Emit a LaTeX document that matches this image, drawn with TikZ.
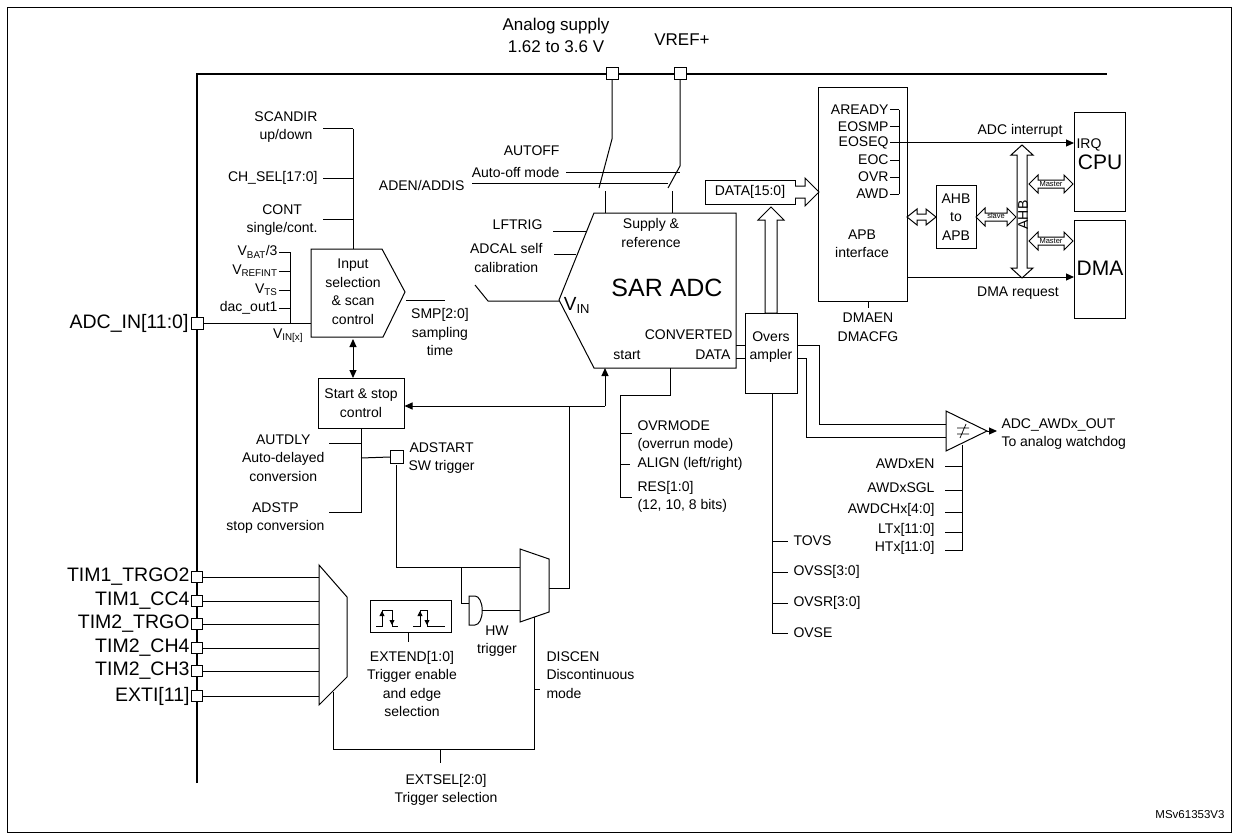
\documentclass[tikz,border=0pt]{standalone}
\usepackage{fontspec}
\setmainfont{Liberation Sans}
\usetikzlibrary{arrows.meta}
\newcommand\hdarrow[6]{\draw[fill=white] (#1,#3) -- (#1+#6,#3-#5) -- (#1+#6,#3-#4) -- (#2-#6,#3-#4) -- (#2-#6,#3-#5) -- (#2,#3) -- (#2-#6,#3+#5) -- (#2-#6,#3+#4) -- (#1+#6,#3+#4) -- (#1+#6,#3+#5) -- cycle;}
\newcommand\vdarrow[6]{\draw[fill=white] (#3,#1) -- (#3-#5,#1+#6) -- (#3-#4,#1+#6) -- (#3-#4,#2-#6) -- (#3-#5,#2-#6) -- (#3,#2) -- (#3+#5,#2-#6) -- (#3+#4,#2-#6) -- (#3+#4,#1+#6) -- (#3+#5,#1+#6) -- cycle;}
\begin{document}
\begin{tikzpicture}[x=1pt,y=-1pt,line width=1pt,
  t/.style={inner sep=0pt,font=\fontsize{14}{18.5}\selectfont,align=center},
  tl/.style={t,anchor=west},tr/.style={t,anchor=east},
  big/.style={inner sep=0pt,font=\fontsize{19.5}{21}\selectfont},
  pin/.style={draw,fill=white,minimum size=12pt,inner sep=0pt,line width=0.8pt},
  ar/.style={-{Triangle[length=8pt,width=7pt]}},
  dar/.style={{Triangle[length=8pt,width=7pt]}-{Triangle[length=8pt,width=7pt]}}]
\useasboundingbox (0,0) rectangle (1239,840);
\draw[line width=0.8pt] (7,7) rectangle (1231,832);
% inner boundary
\draw[line width=2pt] (197,783) -- (197,74) -- (1107,74);
% supplies
\node[pin] (as) at (612,73) {};
\node[pin] (vr) at (680,73) {};
\node[t,font=\fontsize{17}{22}\selectfont] (asl) at (556,35) {Analog supply\\1.62 to 3.6 V};
\node[t,font=\fontsize{17}{19}\selectfont] (vrl) at (682,40) {VREF+};
\draw (as.south) -- (612,139) -- (599,188);
\draw (vr.south) -- (680,166) -- (668,188);
\draw (605,191) -- (605,213);
\draw (672,191) -- (672,213);
\draw (566,172) -- (680,172);
\draw (472,183) -- (668,183);
\node[tr] at (560,151) {AUTOFF};
\node[tr] at (560,172) {Auto-off mode};
\node[tr] at (465,185) {ADEN/ADDIS};
% SAR ADC
\draw (594,213) -- (736,213) -- (736,368) -- (594,368) -- (559,300) -- cycle;
\node[t] (sar) at (667,288) {\fontsize{25}{27}\selectfont SAR ADC};
\node[t] at (651,233) {Supply \&\\reference};
\node[t,font=\fontsize{19}{21}\selectfont] at (577,305) {V\textsubscript{\fontsize{13}{14}\selectfont IN}};
\node[tr] at (733,335) {CONVERTED};
\node[tr] at (731,355) {DATA};
\node[t] at (627,355) {start};
\node[tr] at (543,225) {LFTRIG};
\draw (553,231) -- (587,231);
\node[tr] at (543,258) {ADCAL self\\calibration};
\draw (554,254) -- (576,254);
\draw (475,285) -- (488,301) -- (559,301);
% input selection
\draw (311,249) -- (382,249) -- (405,292) -- (383,337) -- (311,337) -- cycle;
\node[t] (insel) at (353,292) {Input\\selection\\\& scan\\control};
\draw (406,300) -- (445,300);
\node[t] at (440,332) {SMP[2:0]\\sampling\\time};
\draw (353,249) -- (353,129);
\draw (323,129) -- (353,129);\node[tr] at (318,127) {SCANDIR\\up/down};
\draw (323,178) -- (353,178);\node[tr] at (318,178) {CH\_SEL[17:0]};
\draw (323,219) -- (353,219);\node[tr] at (318,220) {CONT\\single/cont.};
\draw (290,252) -- (290,323);
\foreach \y/\s in {252/{V\textsubscript{BAT}/3},271/{V\textsubscript{REFINT}},290/{V\textsubscript{TS}},308/{dac\_out1}}
 {\draw (279,\y) -- (290,\y); \node[tr] at (278,\y) {\s};}
\node[pin] (adcin) at (197,323) {};
\node[big,anchor=east] at (189,323) {ADC\_IN[11:0]};
\draw (adcin.east) -- (311,323);
\node[t,anchor=north] at (288,328) {V\textsubscript{IN[x]}};
% start stop
\node[draw,t,minimum width=86pt,minimum height=50pt] (ss) at (361,403) {Start \& stop\\control};
\draw[dar] (353,339) -- (353,378);
\draw[ar] (605,406) -- (ss.east |- 0,406);
\draw[ar] (605,406) -- (605,368);
\draw (569,406) -- (569,588) -- (549,588);
\draw (361,428) -- (361,512) -- (329,512);
\draw (329,443) -- (361,443);
\node[pin,minimum size=13pt] (adst) at (397,457) {};
\draw (361,458) -- (adst.west);
\node[tr] at (325,458) {AUTDLY\\Auto-delayed\\conversion};
\node[tr] at (325,518) {ADSTP\\stop conversion};
\node[tl] at (408,458) {ADSTART\\SW trigger};
% trigger inputs
\foreach \y/\s [count=\i] in {577/TIM1\_TRGO2,601/TIM1\_CC4,624/TIM2\_TRGO,648/TIM2\_CH4,671/TIM2\_CH3,696/EXTI[11]}{
 \node[pin,minimum size=11pt] (tp\i) at (197,\y) {};
 \node[big,anchor=east] at (190,\y) {\s};
 \draw (tp\i.east) -- (319,\y);}
\draw (319,565) -- (347,597) -- (347,677) -- (319,705) -- cycle;
\draw (333,692) -- (333,749) -- (534,749) -- (534,617);
\draw (440,749) -- (440,763);
\node[t] at (446,790) {EXTSEL[2:0]\\Trigger selection};
% edge box
\draw (370,600) rectangle (451,632);
\draw[line width=0.8pt] (376,626) -- (382,626) -- (382,610) -- (392,610) -- (392,626) -- (398,626);
\draw[line width=0.8pt,-{Triangle[length=5pt,width=5pt]}] (382,622) -- (382,611);
\draw[line width=0.8pt,-{Triangle[length=5pt,width=5pt]}] (392,614) -- (392,625);
\draw[line width=0.8pt] (413,626) -- (420,626) -- (420,610) -- (427,610) -- (427,626) -- (445,626);
\draw[line width=0.8pt,-{Triangle[length=5pt,width=5pt]}] (420,622) -- (420,611);
\draw[line width=0.8pt,-{Triangle[length=5pt,width=5pt]}] (427,614) -- (427,625);
\draw (408,632) -- (408,642);
\node[t] at (412,684) {EXTEND[1:0]\\Trigger enable\\and edge\\selection};
% AND gate & mux2
\draw (469,596) -- (469,625) -- (475,625) arc (-90:90:7.25pt and 14.5pt) -- cycle;
\draw (396,465) -- (396,567) -- (520,567);
\draw (461,567) -- (461,603) -- (469,603);
\draw (482,610) -- (520,610);
\draw (520,549) -- (549,559) -- (549,612) -- (520,622) -- cycle;
\node[t] at (497,641) {HW\\trigger};
\draw (534,689) -- (540,689);
\node[t,anchor=west,align=left] at (546,675) {DISCEN\\Discontinuous\\mode};
% overrun config
\draw (670,368) -- (670,395) -- (620,395) -- (620,497) -- (632,497);
\draw (620,433) -- (632,433);
\draw (620,464) -- (630,464);
\node[tl,align=left] at (637,436) {OVRMODE\\(overrun mode)};
\node[tl] at (637,464) {ALIGN (left/right)};
\node[tl,align=left] at (637,497) {RES[1:0]\\(12, 10, 8 bits)};
% oversampler
\node[draw,minimum width=52pt,minimum height=80pt,inner sep=0pt] (ovs) at (771,353) {};
\node[t] at (771,347) {Overs\\ampler};
\draw (736,345) -- (746,345);
\draw (736,358) -- (746,358);
\draw (798,345) -- (819,345) -- (819,424) -- (946,424);
\draw (798,358) -- (806,358) -- (806,437) -- (946,437);
\draw (772,393) -- (772,633) -- (788,633);
\foreach \y/\s in {541/TOVS,572/{OVSS[3:0]},603/{OVSR[3:0]},633/OVSE}{\draw (772,\y) -- (788,\y); \node[tl] at (793,\y) {\s};}
% comparator
\draw[fill=white] (946,411) -- (987,431) -- (946,451) -- cycle;
\draw[line width=0.7pt] (957,428) -- (969,428) (957,434) -- (969,434) (966,424) -- (960,438);
\draw[ar] (987,431) -- (997,431);
\node[tl,align=left] at (1001,434) {ADC\_AWDx\_OUT\\To analog watchdog};
\draw (962,445) -- (962,550) -- (945,550);
\foreach \y/\s in {466/AWDxEN,490/AWDxSGL,512/{AWDCHx[4:0]},532/{LTx[11:0]},550/{HTx[11:0]}}{\draw (945,\y) -- (962,\y); \node[tr] at (935,\y-2) {\s};}
% data
\node[draw,t,minimum width=90pt,minimum height=24pt] (data) at (750,192) {DATA[15:0]};
\draw[fill=white] (771,207) -- (784,220) -- (777,220) -- (777,313) -- (765,313) -- (765,220) -- (758,220) -- cycle;
\draw[fill=white] (795,186) -- (805,186) -- (805,178) -- (819,192) -- (805,206) -- (805,198) -- (795,198);
% APB
\draw (818,88) rectangle (907,301);
\node[t] at (862,244) {APB\\interface};
\foreach \y/\s in {110/AREADY,127/EOSMP,143/EOSEQ,160/EOC,177/OVR,194/AWD}{\node[tr] at (889,\y) {\s};}
\foreach \y in {110,127,160,177,194}{\draw (890,\y) -- (899,\y);}
\draw (899,110) -- (899,194);
\draw (868,301) -- (868,308);
\node[t] at (868,327) {DMAEN\\DMACFG};
\draw[ar] (890,143) -- (1074,143);
\node[t] at (1020,131) {ADC interrupt};
\draw[ar] (907,277) -- (1074,277);
\node[t] at (1018,293) {DMA request};
\node[draw,minimum width=51pt,minimum height=99pt,inner sep=0pt] (cpu) at (1100,162) {};
\node[draw,minimum width=51pt,minimum height=98pt,inner sep=0pt] (dma) at (1100,269) {};
\node[tl] at (1076,145) {IRQ};
\node[t,font=\fontsize{21}{23}\selectfont] at (1100,162) {CPU};
\node[t,font=\fontsize{21}{23}\selectfont] at (1100,268) {DMA};
\node[draw,t,minimum width=40pt,minimum height=63pt] (ahb) at (956,217) {AHB\\to\\APB};
\hdarrow{907}{936}{217}{3}{8}{10}
\hdarrow{976}{1016}{217}{4}{9}{9}
\node[inner sep=0,font=\fontsize{7.5}{8}\selectfont] at (996,216) {slave};
\vdarrow{145}{278}{1022}{5}{11}{10}
\node[t,rotate=90] at (1023,215) {AHB};
\hdarrow{1029}{1073}{184}{4}{9}{9}
\hdarrow{1029}{1073}{241}{4}{9}{9}
\node[inner sep=0,font=\fontsize{7.5}{8}\selectfont] at (1051,184) {Master};
\node[inner sep=0,font=\fontsize{7.5}{8}\selectfont] at (1051,241) {Master};
\node[t,font=\fontsize{11.5}{12}\selectfont] at (1190,815) {MSv61353V3};
\end{tikzpicture}
\end{document}
